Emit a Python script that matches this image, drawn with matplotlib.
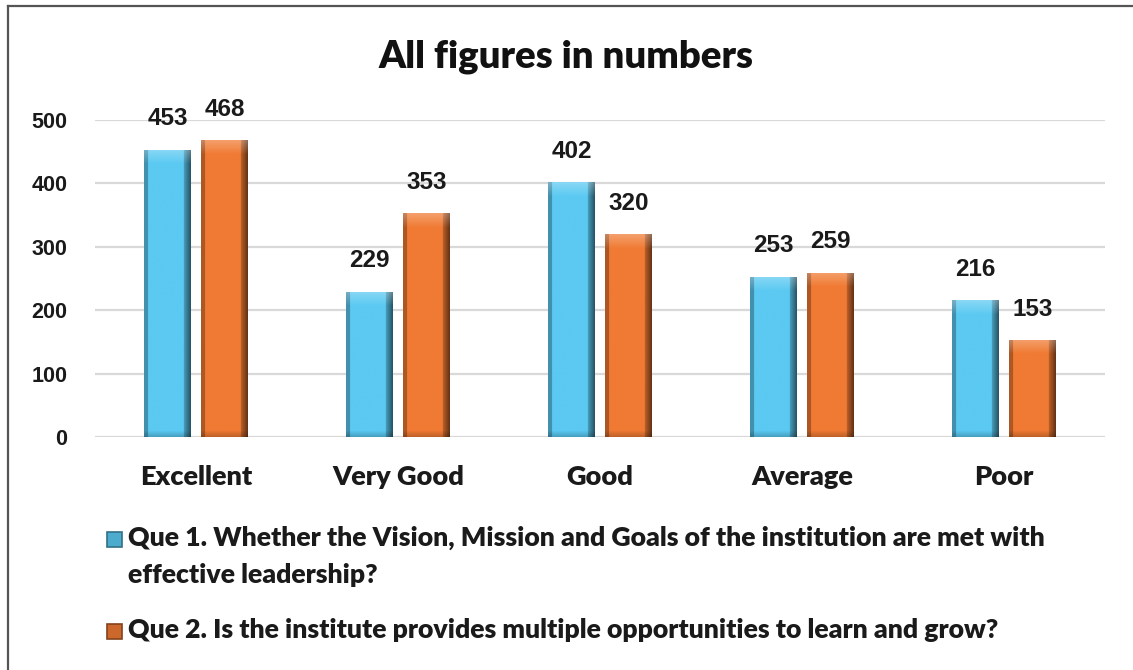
import numpy as np
import matplotlib
matplotlib.use("Agg")
import matplotlib.pyplot as plt
from matplotlib.patches import Rectangle
from matplotlib.colors import to_rgb

categories = ["Excellent", "Very Good", "Good", "Average", "Poor"]
que1 = [453, 229, 402, 253, 216]
que2 = [468, 353, 320, 259, 153]
series_labels = [
    "Que 1. Whether the Vision, Mission and Goals of the institution are met with\neffective leadership?",
    "Que 2. Is the institute provides multiple opportunities to learn and grow?",
]
colors = ["#5BC9F2", "#F07A33"]
yticks = [0, 100, 200, 300, 400, 500]
title = "All figures in numbers"

W, H = 1133, 670
fig = plt.figure(figsize=(W / 100, H / 100), dpi=100)
fig.patch.set_facecolor("white")

ax = fig.add_axes([95 / W, 1 - 437 / H, (1105 - 95) / W, (437 - 120) / H])
ax.set_xlim(-0.5, len(categories) - 0.5)
ax.set_ylim(0, 500)
ax.set_yticks(yticks)
ax.set_yticklabels([str(t) for t in yticks], fontfamily="Liberation Sans",
                   fontweight="bold", fontsize=15.5, color="#1a1a1a")
x = np.arange(len(categories))
ax.set_xticks(x)
ax.set_xticklabels(categories, fontfamily="Lato", fontweight=800,
                   fontsize=19.5, color="#1a1a1a")
ax.tick_params(axis="y", length=0, pad=20)
ax.tick_params(axis="x", length=0, pad=20.5)
for s in ax.spines.values():
    s.set_visible(False)
ax.grid(axis="y", color="#d9d9d9", linewidth=1.6)
ax.set_axisbelow(True)

width = 0.228
offset = 0.141


def shade_image(base, hpx, wpx):
    base = np.array(to_rgb(base))
    xs = np.linspace(0, 1, wpx)
    prof = np.ones(wpx)
    prof = np.where(xs < 0.07, 0.72, prof)
    prof = np.where(xs > 0.86, 0.78 - 0.35 * (xs - 0.86) / 0.14, prof)
    img = np.ones((hpx, wpx, 3)) * base[None, None, :] * prof[None, :, None]
    bev = min(14, max(2, hpx // 4))
    for r in range(bev):
        f = 1 - r / bev
        img[r] = img[r] + (1 - img[r]) * 0.28 * f
    bb = min(6, hpx // 6)
    for r in range(bb):
        img[hpx - 1 - r] = img[hpx - 1 - r] * (0.8 + 0.2 * r / max(bb, 1))
    return np.clip(img, 0, 1)


px_per_unit = (437 - 120) / 500
for vals, off, col in [(que1, -offset, colors[0]), (que2, offset, colors[1])]:
    bars = ax.bar(x + off, vals, width=width, color=col, zorder=2,
                  edgecolor="none")
    for b, v in zip(bars, vals):
        x0 = b.get_x()
        hpx = max(int(v * px_per_unit), 4)
        img = shade_image(col, hpx, 46)
        im = ax.imshow(img, extent=[x0, x0 + b.get_width(), 0, v],
                       aspect="auto", zorder=3, interpolation="bilinear")
        im.set_clip_path(b)
        ax.annotate(str(v), (b.get_x() + b.get_width() / 2, v),
                    xytext=(0, 14), textcoords="offset points",
                    ha="center", va="bottom", fontfamily="Liberation Sans",
                    fontweight="bold", fontsize=17.5, color="#1a1a1a")
ax.set_xlim(-0.5, len(categories) - 0.5)
ax.set_ylim(0, 500)

fig.text(0.5, 1 - 57 / H, title, ha="center", va="center",
         fontfamily="Lato", fontweight=800, fontsize=27.5, color="#111111")

# legend
leg_y = [540, 632]
leg_top = [526, 618]
for lab, col, yy, yt in zip(series_labels, colors, leg_y, leg_top):
    c = np.array(to_rgb(col))
    fig.patches.append(Rectangle((107 / W, 1 - (yy + 7) / H), 15 / W, 15 / H,
                                 transform=fig.transFigure,
                                 facecolor=c * 0.85, edgecolor=c * 0.55,
                                 linewidth=1.2))
    fig.text(128 / W, 1 - yt / H, lab, ha="left", va="top",
             fontfamily="Lato", fontweight=800, fontsize=19.2,
             color="#1a1a1a", linespacing=1.62)

# frame
fig.add_artist(plt.Line2D([8 / W, 8 / W], [0, 1 - 6 / H],
                          transform=fig.transFigure, color="#555555", lw=1.6))
fig.add_artist(plt.Line2D([8 / W, 1], [1 - 6 / H, 1 - 6 / H],
                          transform=fig.transFigure, color="#555555", lw=1.6))

fig.savefig("out.png", dpi=100)
